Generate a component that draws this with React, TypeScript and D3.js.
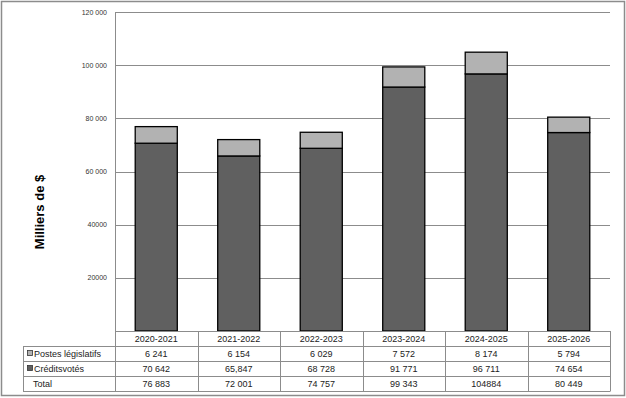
import React, { useRef, useEffect } from "react";
import * as d3 from "d3";

// fiscal years
const years = ["2020-2021", "2021-2022", "2022-2023", "2023-2024", "2024-2025", "2025-2026"];
// Postes législatifs (milliers de $)
const statutory = [6241, 6154, 6029, 7572, 8174, 5794];
// Crédits votés (milliers de $)
const voted = [70642, 65847, 68728, 91771, 96711, 74654];
// labels as printed in the table
const statutoryLabels = ["6 241", "6 154", "6 029", "7 572", "8 174", "5 794"];
const votedLabels = ["70 642", "65,847", "68 728", "91 771", "96 711", "74 654"];
const totalLabels = ["76 883", "72 001", "74 757", "99 343", "104884", "80 449"];
const yTicks = [20000, 40000, 60000, 80000, 100000, 120000];
const yTickLabels = ["20000", "40000", "60 000", "80 000", "100 000", "120 000"];

const W = 626;
const H = 398;
const FONT = "'Liberation Sans', Arial, sans-serif";

const App = () => {
  const svgRef = useRef<SVGSVGElement>(null);

  useEffect(() => {
    const svg = d3.select(svgRef.current);
    svg.selectAll("*").remove();

    const left = 115, right = 610, top = 12, bottom = 331;
    const tableLeft = 23;
    const rowH = 15;

    // outer frame
    svg.append("rect")
      .attr("x", 1.5).attr("y", 1.5)
      .attr("width", W - 3).attr("height", H - 4)
      .attr("fill", "white").attr("stroke", "#8c8c8c").attr("stroke-width", 1.5);

    const x = d3.scaleBand().domain(years).range([left, right]).paddingInner(0).paddingOuter(0);
    const y = d3.scaleLinear().domain([0, 120000]).range([bottom, top]);

    // gridlines
    svg.append("g").selectAll("line")
      .data(yTicks).enter().append("line")
      .attr("x1", left).attr("x2", right)
      .attr("y1", (d) => Math.round(y(d)) + 0.5).attr("y2", (d) => Math.round(y(d)) + 0.5)
      .attr("stroke", "#8c8c8c").attr("stroke-width", 1);

    // y axis line
    svg.append("line")
      .attr("x1", left + 0.5).attr("x2", left + 0.5)
      .attr("y1", top).attr("y2", bottom)
      .attr("stroke", "#8c8c8c");

    // tick labels
    svg.append("g").selectAll("text")
      .data(yTicks).enter().append("text")
      .attr("x", 107).attr("y", (d) => y(d) + 2.5)
      .attr("text-anchor", "end")
      .attr("font-family", FONT).attr("font-size", 7)
      .attr("fill", "#333")
      .text((d, i) => yTickLabels[i]);

    // axis title
    svg.append("text")
      .attr("transform", `translate(44,212) rotate(-90)`)
      .attr("text-anchor", "middle")
      .attr("font-family", FONT).attr("font-size", 13).attr("font-weight", "bold")
      .text("Milliers de $");

    // stacked bars
    const bw = x.bandwidth() * 0.51;
    const off = (x.bandwidth() - bw) / 2;
    const bars = svg.append("g");
    years.forEach((yr, i) => {
      const x0 = x(yr)! + off;
      bars.append("rect")
        .attr("x", x0).attr("y", y(voted[i]))
        .attr("width", bw).attr("height", y(0) - y(voted[i]))
        .attr("fill", "#606060").attr("stroke", "black").attr("stroke-width", 1.3);
      bars.append("rect")
        .attr("x", x0).attr("y", y(voted[i] + statutory[i]))
        .attr("width", bw).attr("height", y(voted[i]) - y(voted[i] + statutory[i]))
        .attr("fill", "#b2b2b2").attr("stroke", "black").attr("stroke-width", 1.3);
    });

    // data table
    const t = svg.append("g");
    const lineColor = "#8c8c8c";
    const rows = [
      { name: "Postes législatifs", labels: statutoryLabels, swatch: "#b2b2b2" },
      { name: "Créditsvotés", labels: votedLabels, swatch: "#606060" },
      { name: "Total", labels: totalLabels, swatch: null },
    ];
    const hy = bottom;
    // horizontal lines
    t.append("line").attr("x1", left).attr("x2", right).attr("y1", hy + 0.5).attr("y2", hy + 0.5).attr("stroke", lineColor);
    [1, 2, 3, 4].forEach((k) => {
      const yy = hy + k * rowH + 0.5;
      t.append("line").attr("x1", tableLeft).attr("x2", right).attr("y1", yy).attr("y2", yy).attr("stroke", lineColor);
    });
    // vertical lines
    t.append("line").attr("x1", tableLeft + 0.5).attr("x2", tableLeft + 0.5)
      .attr("y1", hy + rowH).attr("y2", hy + 4 * rowH).attr("stroke", lineColor);
    [...years.map((yr) => x(yr)!), right].forEach((xx) => {
      t.append("line").attr("x1", Math.round(xx) + 0.5).attr("x2", Math.round(xx) + 0.5)
        .attr("y1", hy).attr("y2", hy + 4 * rowH + 0.5).attr("stroke", lineColor);
    });
    // header
    t.selectAll(".hdr").data(years).enter().append("text")
      .attr("x", (d) => x(d)! + x.bandwidth() / 2).attr("y", hy + 11)
      .attr("text-anchor", "middle").attr("font-family", FONT).attr("font-size", 9)
      .attr("fill", "#222").text((d) => d);
    rows.forEach((r, ri) => {
      const ry = hy + (ri + 1) * rowH;
      if (r.swatch) {
        t.append("rect").attr("x", 27.5).attr("y", ry + 4.5).attr("width", 5).attr("height", 5)
          .attr("fill", r.swatch).attr("stroke", "#333").attr("stroke-width", 0.8);
      }
      t.append("text")
        .attr("x", r.swatch ? 34 : 33).attr("y", ry + 11)
        .attr("font-family", FONT).attr("font-size", 9).attr("fill", "#222")
        .text(r.name);
      r.labels.forEach((lab, i) => {
        t.append("text")
          .attr("x", x(years[i])! + x.bandwidth() / 2).attr("y", ry + 11)
          .attr("text-anchor", "middle").attr("font-family", FONT).attr("font-size", 9)
          .attr("fill", "#222").text(lab);
      });
    });
  }, []);

  return (
    <svg ref={svgRef} width={W} height={H} style={{ position: "absolute", left: 0, top: 0 }}></svg>
  );
};

export default App;
